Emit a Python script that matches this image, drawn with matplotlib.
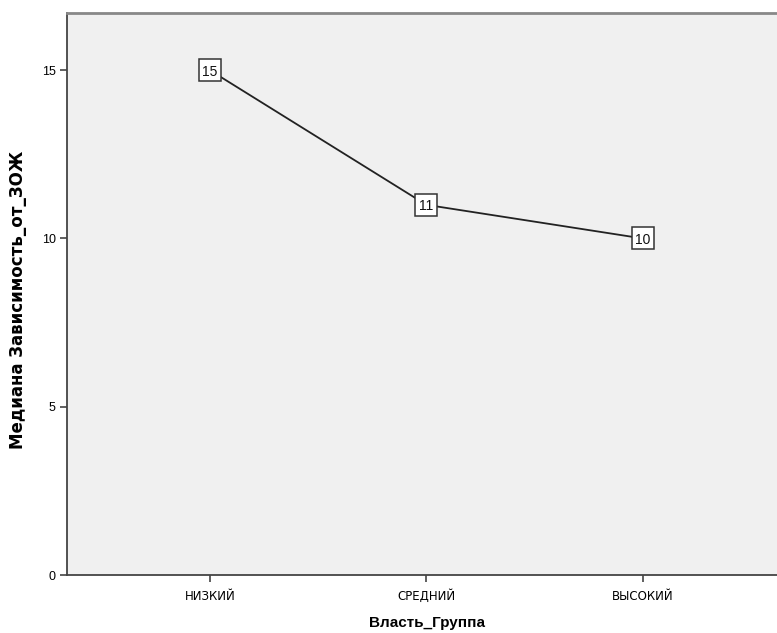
import matplotlib.pyplot as plt

categories = ['НИЗКИЙ', 'СРЕДНИЙ', 'ВЫСОКИЙ']
medians = [15, 11, 10]
yticks = [0, 5, 10, 15]

plt.rcParams['font.family'] = ['Liberation Sans', 'DejaVu Sans']

fig = plt.figure(figsize=(7.77, 6.33), dpi=100)
ax = fig.add_axes([67 / 777, 58 / 633, 1 - 67 / 777, (575 - 13) / 633])
ax.set_facecolor('#f0f0f0')

x = list(range(len(categories)))
ax.plot(x, medians, color='#222222', linewidth=1.3, zorder=2)
# boxed value labels
ax.plot(x, medians, linestyle='none', marker='s', markersize=15.5, markerfacecolor='white',
        markeredgecolor='#333333', markeredgewidth=1.1, zorder=3)
for xi, v in zip(x, medians):
    ax.text(xi, v, str(v), ha='center', va='center_baseline', fontsize=10,
            color='#111111', zorder=4)

ax.set_xlim(-0.66, 2.62)
ax.set_ylim(0, 16.7)
ax.set_xticks(x)
ax.set_xticklabels(categories, fontsize=8.5, family=['DejaVu Sans'], va='baseline')
ax.set_yticks(yticks)
ax.set_yticklabels([str(t) for t in yticks], fontsize=9)
ax.tick_params(length=5, width=1.2, color='#444444')
ax.tick_params(axis='x', pad=13)
ax.tick_params(axis='y', pad=3)

for s in ['left', 'bottom']:
    ax.spines[s].set_color('#444444')
    ax.spines[s].set_linewidth(1.3)
ax.spines['top'].set_color('#888888')
ax.spines['top'].set_linewidth(2)
ax.spines['right'].set_visible(False)

ax.set_xlabel('Власть_Группа', fontsize=11, fontweight='bold')
ax.xaxis.set_label_coords((427 - 67) / 710, -(616 - 575) / 562)
ax.set_ylabel('Медиана Зависимость_от_ЗОЖ', fontsize=12, fontweight='bold',
              family=['DejaVu Sans'])
ax.yaxis.set_label_coords(-(67 - 27) / 710, (575 - 300) / 562)

fig.savefig('out.png', dpi=100)
